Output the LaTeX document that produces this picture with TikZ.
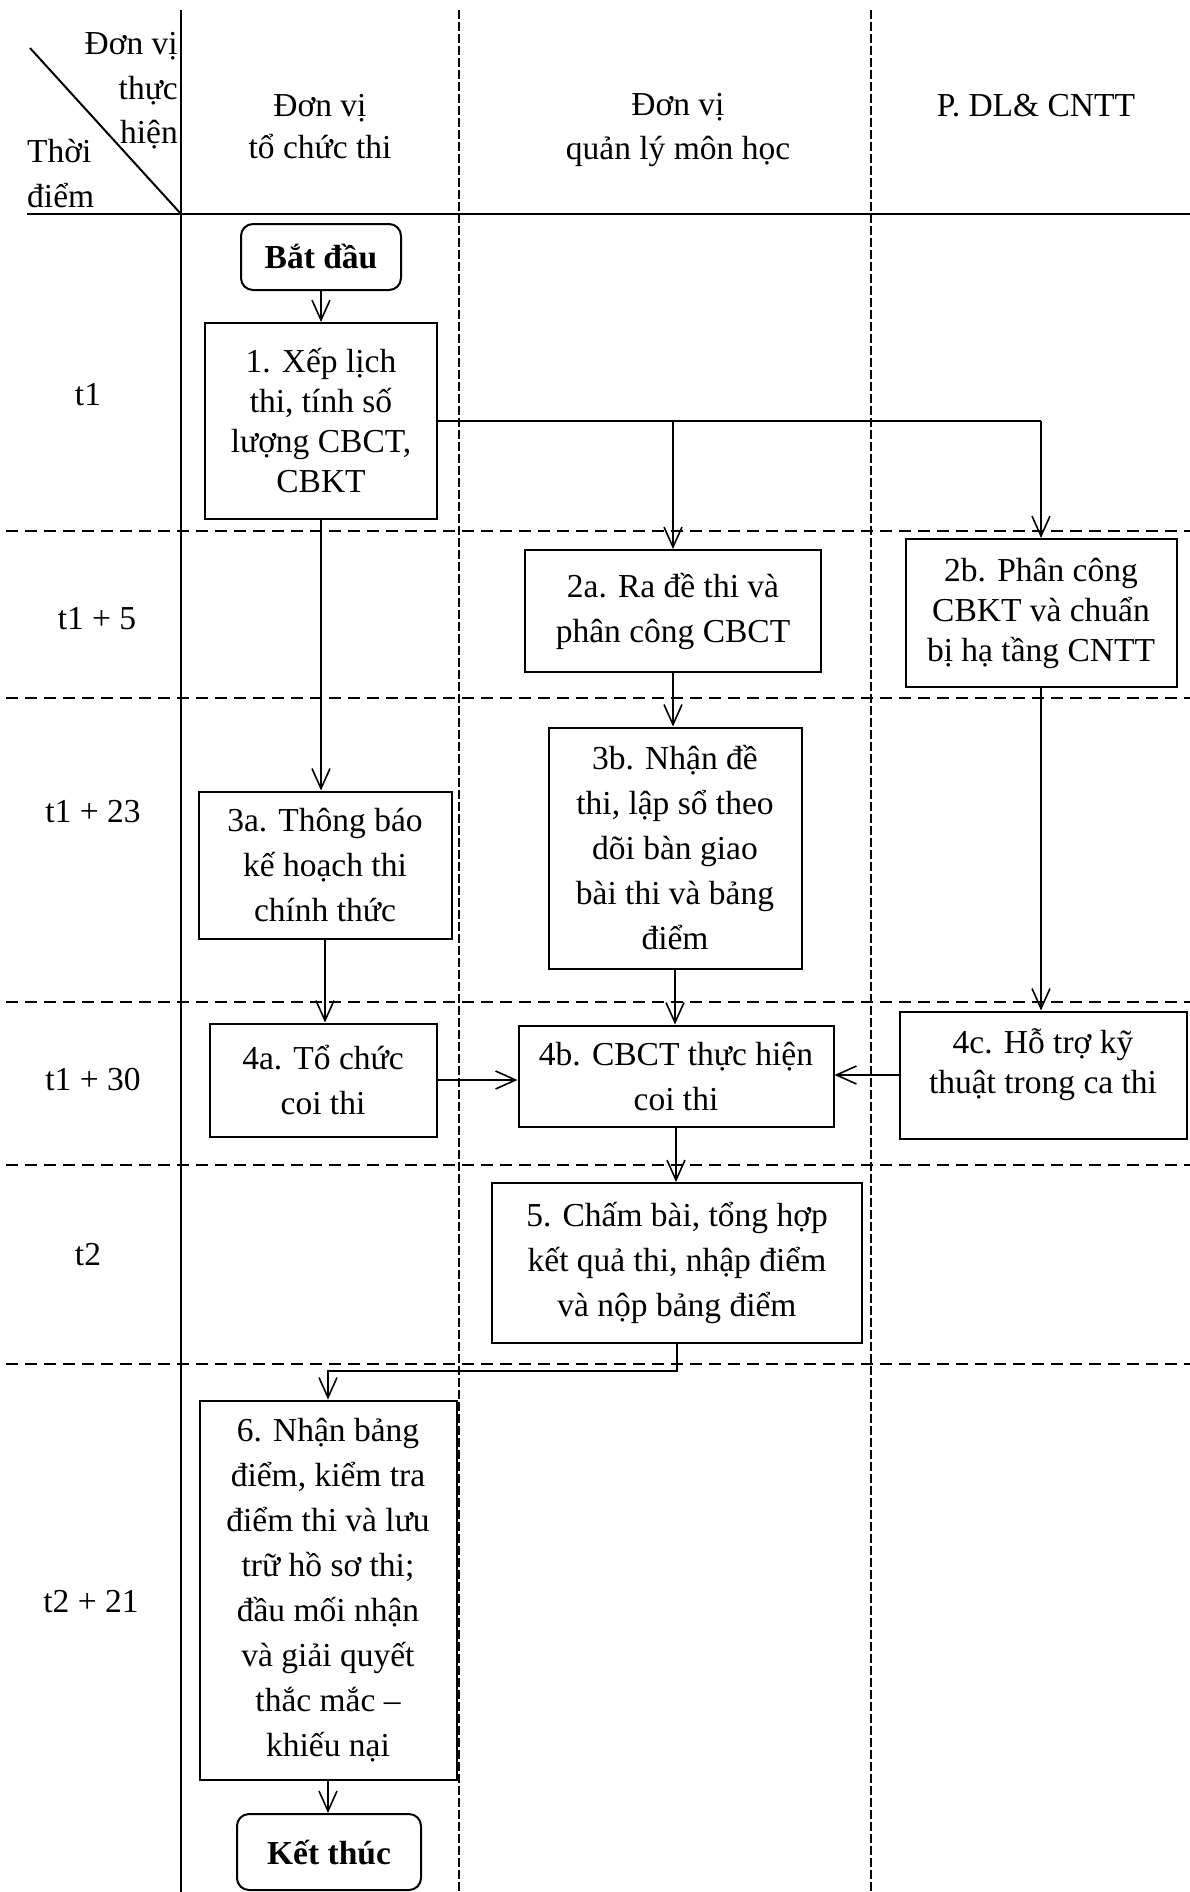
\documentclass[tikz,border=0pt]{standalone}
\usepackage{fontspec}
\setmainfont{Liberation Serif}
\usetikzlibrary{arrows.meta}
\begin{document}
\begin{tikzpicture}[x=1pt,y=-1pt,
  every node/.style={font=\fontsize{33.5}{45}\selectfont, inner sep=0pt},
  box/.style={draw, fill=white, line width=2pt, align=center},
  tight/.style={font=\fontsize{33.5}{40}\selectfont},
  term/.style={draw, fill=white, line width=2pt, rounded corners=12pt, font=\fontsize{33.5}{40}\selectfont\bfseries},
  flow/.style={line width=1.6pt, -{Straight Barb[length=20pt,width=18pt]}},
  plainflow/.style={line width=1.6pt},
  lane/.style={line width=1.4pt, dash pattern=on 9pt off 3pt},
  rowline/.style={line width=1.8pt, dash pattern=on 12pt off 7pt},
  solidline/.style={line width=2pt}
]
\useasboundingbox (0,0) rectangle (1190,1892);
% grid
\draw[solidline] (30,48) -- (181,214);
\draw[solidline] (181,10) -- (181,1892);
\draw[solidline] (27,214) -- (1190,214);
\draw[lane] (459,10) -- (459,1892);
\draw[lane] (871,10) -- (871,1892);
\foreach \yy in {531,698,1002,1165,1364} \draw[rowline] (6,\yy) -- (1190,\yy);
% header
\node[align=right, anchor=east, font=\fontsize{33.5}{44.5}\selectfont] (hdrunit) at (178,91) {Đơn vị\\thực\\hiện};
\node[align=left, anchor=west] (hdrtime) at (27,174) {Thời\\điểm};
\node[align=center, font=\fontsize{33.5}{42}\selectfont] (lane1) at (320,127) {Đơn vị\\tổ chức thi};
\node[align=center, font=\fontsize{33.5}{44}\selectfont] (lane2) at (678,130) {Đơn vị\\quản lý môn học};
\node (lane3) at (1036,106) {P. DL\& CNTT};
% time labels
\node (t1) at (88,395) {t1};
\node (t15) at (97,619) {t1 + 5};
\node (t123) at (93,812) {t1 + 23};
\node (t130) at (93,1080) {t1 + 30};
\node (t2) at (88,1255) {t2};
\node (t221) at (91,1602) {t2 + 21};
% boxes
\node[term, minimum width=160pt, minimum height=66pt] (start) at (321,257) {Bắt đầu};
\node[box, tight, minimum width=232pt, minimum height=196pt] (s1) at (321,421) {1. Xếp lịch\\thi, tính số\\lượng CBCT,\\CBKT};
\node[box, minimum width=296pt, minimum height=122pt] (s2a) at (673,611) {2a. Ra đề thi và\\phân công CBCT};
\node[box, tight, minimum width=271pt, minimum height=148pt] (s2b) at (1041,613) {2b. Phân công\\CBKT và chuẩn\\bị hạ tầng CNTT};
\node[box, minimum width=253pt, minimum height=241pt] (s3b) at (675,848) {3b. Nhận đề\\thi, lập sổ theo\\dõi bàn giao\\bài thi và bảng\\điểm};
\node[box, minimum width=253pt, minimum height=147pt] (s3a) at (325,865) {3a. Thông báo\\kế hoạch thi\\chính thức};
\node[box, minimum width=227pt, minimum height=113pt] (s4a) at (323,1080) {4a. Tổ chức\\coi thi};
\node[box, minimum width=315pt, minimum height=101pt] (s4b) at (676,1076) {4b. CBCT thực hiện\\coi thi};
\node[box, tight, text depth=28pt, minimum width=287pt, minimum height=127pt] (s4c) at (1043,1075) {4c. Hỗ trợ kỹ\\thuật trong ca thi};
\node[box, minimum width=370pt, minimum height=160pt] (s5) at (677,1263) {5. Chấm bài, tổng hợp\\kết quả thi, nhập điểm\\và nộp bảng điểm};
\node[box, minimum width=257pt, minimum height=379pt] (s6) at (328,1590) {6. Nhận bảng\\điểm, kiểm tra\\điểm thi và lưu\\trữ hồ sơ thi;\\đầu mối nhận\\và giải quyết\\thắc mắc –\\khiếu nại};
\node[term, minimum width=184pt, minimum height=76pt] (end) at (329,1852) {Kết thúc};
% connectors
\draw[flow] (start) -- (start.south |- s1.north);
\coordinate (j1) at (s1.east -| s2b.north);
\draw[plainflow] (s1.east) -- (j1);
\draw[flow] (s1.east -| s2a.north) -- (s2a.north);
\draw[flow] (j1) -- (s2b.north);
\draw[flow] (s1.south) -- (s1.south |- s3a.north);
\draw[flow] (s2a.south) -- (s2a.south |- s3b.north);
\draw[flow] (s2b.south) -- (s2b.south |- s4c.north);
\draw[flow] (s3a.south) -- (s3a.south |- s4a.north);
\draw[flow] (s3b.south) -- (s3b.south |- s4b.north);
\draw[flow] (s4a.east) -- (s4a.east -| s4b.west);
\draw[flow] (s4c.west) -- (s4c.west -| s4b.east);
\draw[flow] (s4b.south) -- (s4b.south |- s5.north);
\draw[flow] (s5.south) -- ++(0,27) -| (s6.north);
\draw[flow] (s6.south) -- (s6.south |- end.north);
\end{tikzpicture}
\end{document}
